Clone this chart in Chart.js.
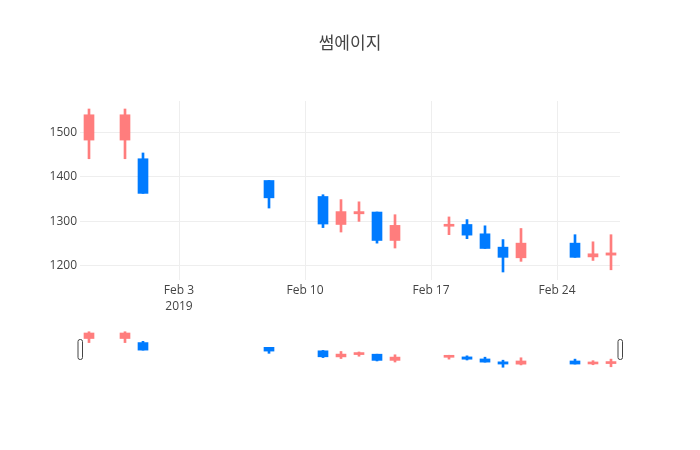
<!DOCTYPE html>
<html>
<head>
<meta charset="utf-8">
<script src="https://cdn.jsdelivr.net/npm/chart.js@4.4.1/dist/chart.umd.min.js"></script>
<style>
  html, body { margin: 0; padding: 0; background: #fff; }
  #wrap { position: relative; width: 700px; height: 450px; }
  #main { position: absolute; left: 0; top: 0; }
  #slider { position: absolute; left: 0; top: 322px; }
</style>
</head>
<body>
<div id="wrap">
  <canvas id="main" width="700" height="320"></canvas>
  <canvas id="slider" width="700" height="50"></canvas>
</div>
<script>
// 썸에이지 일봉 (2019)
const dates = ['2019-01-29', '2019-01-31', '2019-02-01', '2019-02-08', '2019-02-11', '2019-02-12', '2019-02-13',
  '2019-02-14', '2019-02-15', '2019-02-18', '2019-02-19', '2019-02-20', '2019-02-21', '2019-02-22',
  '2019-02-25', '2019-02-26', '2019-02-27'];
const open  = [1483, 1483, 1441, 1392, 1356, 1293, 1317, 1321, 1257, 1289, 1293, 1272, 1242, 1218, 1251, 1220, 1224];
const high  = [1553, 1553, 1454, 1392, 1360, 1349, 1344, 1321, 1315, 1310, 1304, 1290, 1259, 1284, 1270, 1254, 1270];
const low   = [1441, 1441, 1363, 1330, 1286, 1276, 1300, 1251, 1240, 1270, 1261, 1239, 1186, 1210, 1219, 1212, 1191];
const close = [1540, 1540, 1363, 1353, 1294, 1322, 1322, 1257, 1291, 1293, 1269, 1239, 1219, 1251, 1219, 1227, 1229];

const yTicks = [1200, 1300, 1400, 1500];
const xTickDates = ['2019-02-03', '2019-02-10', '2019-02-17', '2019-02-24'];
const MONTHS = ['Jan','Feb','Mar','Apr','May','Jun','Jul','Aug','Sep','Oct','Nov','Dec'];

const UP = 'rgb(255,125,125)';
const DOWN = 'rgb(0,123,255)';
const FONT = '"Open Sans", "Noto Sans CJK KR", sans-serif';

const toDay = s => Date.parse(s + 'T00:00:00Z') / 864e5;
const days = dates.map(toDay);
const xMin = toDay('2019-01-29') - 0.5;
const xMax = toDay('2019-02-27') + 0.5;
const yMin = 1168, yMax = 1571;

const colors = open.map((o, i) => close[i] >= o ? UP : DOWN);
const bodies = days.map((d, i) => ({ x: d, y: [Math.min(open[i], close[i]), Math.max(open[i], close[i])] }));
const wicks = days.map((d, i) => ({ x: d, y: [low[i], high[i]] }));

function candleSets() {
  return [
    { data: bodies, backgroundColor: colors, borderWidth: 0, barThickness: 10, grouped: false, minBarLength: 2 },
    { data: wicks, backgroundColor: colors, borderWidth: 0, barThickness: 2, grouped: false }
  ];
}

function tickLabel(v) {
  const d = new Date(v * 864e5);
  const s = MONTHS[d.getUTCMonth()] + ' ' + d.getUTCDate();
  return v === toDay(xTickDates[0]) ? [s, String(d.getUTCFullYear())] : s;
}

new Chart(document.getElementById('main'), {
  type: 'bar',
  data: { datasets: candleSets() },
  options: {
    responsive: false,
    animation: false,
    layout: { padding: 0 },
    plugins: {
      legend: { display: false },
      tooltip: { enabled: false },
      title: {
        display: true, text: '썸에이지', color: '#444',
        font: { family: FONT, size: 17, weight: 'normal', lineHeight: 1.2 },
        padding: { top: 34, bottom: 46.6 }
      }
    },
    scales: {
      x: {
        type: 'linear', min: xMin, max: xMax, offset: false,
        afterBuildTicks: s => { s.ticks = xTickDates.map(t => ({ value: toDay(t) })); },
        afterFit: s => { s.height = 40; },
        ticks: { color: '#444', padding: 2.6, maxRotation: 0, autoSkip: false,
          font: { family: FONT, size: 12, lineHeight: 1.35 }, callback: tickLabel },
        grid: { color: '#eee', drawTicks: false, offset: false },
        border: { display: false }
      },
      y: {
        min: yMin, max: yMax,
        afterBuildTicks: s => { s.ticks = yTicks.map(v => ({ value: v })); },
        afterFit: s => { s.width = 80; },
        ticks: { color: '#444', padding: 3, font: { family: FONT, size: 12 }, callback: v => String(v) },
        grid: { color: '#eee', drawTicks: false },
        border: { display: false }
      },
      // empty right margin, keeps the title centred on the page
      yRight: {
        position: 'right', min: yMin, max: yMax,
        afterFit: s => { s.width = 80; },
        ticks: { display: false },
        grid: { display: false, drawTicks: false },
        border: { display: false }
      }
    }
  }
});

// range slider handles at both ends of the x range
const handles = {
  id: 'handles',
  afterDraw(chart) {
    const { ctx, chartArea, scales } = chart;
    const cy = (chartArea.top + chartArea.bottom) / 2;
    [scales.x.getPixelForValue(xMin), scales.x.getPixelForValue(xMax)].forEach(px => {
      ctx.save();
      ctx.fillStyle = '#fff';
      ctx.strokeStyle = '#444';
      ctx.lineWidth = 1;
      ctx.beginPath();
      ctx.roundRect(px - 2, cy - 10, 4.5, 20, 2);
      ctx.fill();
      ctx.stroke();
      ctx.restore();
    });
  }
};

new Chart(document.getElementById('slider'), {
  type: 'bar',
  data: { datasets: candleSets() },
  plugins: [handles],
  options: {
    responsive: false,
    animation: false,
    layout: { padding: { left: 80, right: 80, top: 8, bottom: 3 } },
    plugins: { legend: { display: false }, tooltip: { enabled: false } },
    scales: {
      x: { type: 'linear', min: xMin, max: xMax, offset: false, display: false },
      y: { min: yMin, max: yMax, display: false }
    }
  }
});
</script>
</body>
</html>
